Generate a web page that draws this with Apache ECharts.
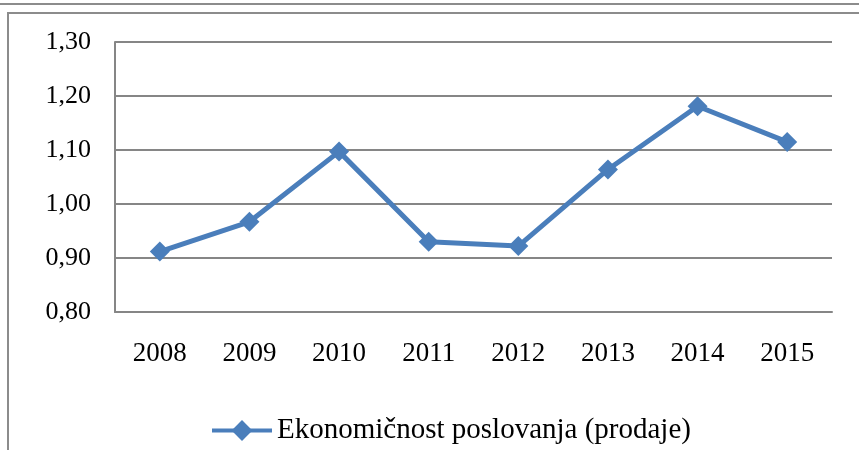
<!DOCTYPE html>
<html><head><meta charset="utf-8">
<script src="https://cdn.jsdelivr.net/npm/echarts@6/dist/echarts.min.js"></script>
<style>html,body{margin:0;padding:0;background:#fff}#c{width:859px;height:450px}</style>
</head><body><div id="c"></div>
<script>
const categories = ['2008','2009','2010','2011','2012','2013','2014','2015'];
const values = [0.912, 0.967, 1.097, 0.930, 0.922, 1.064, 1.181, 1.115];
const seriesName = 'Ekonomičnost poslovanja (prodaje)';
const yTicks = [0.8, 0.9, 1.0, 1.1, 1.2, 1.3];

const chart = echarts.init(document.getElementById('c'), null, {renderer:'canvas'});
const font = '"Liberation Serif", "Times New Roman", serif';
chart.setOption({
  animation: false,
  backgroundColor: '#fff',
  graphic: [
    {type:'line', shape:{x1:0,y1:4,x2:859,y2:4}, style:{stroke:'#8c8c8c', lineWidth:2}},
    {type:'rect', shape:{x:8,y:13,width:900,height:500}, style:{fill:null, stroke:'#8c8c8c', lineWidth:2}}
  ],
  grid: {left:115, right:27, top:42, bottom:138},
  xAxis: {
    type:'category', data: categories, boundaryGap:true,
    axisLine:{lineStyle:{color:'#868686', width:2}},
    axisTick:{show:false},
    axisLabel:{fontFamily:font, fontSize:27, color:'#000', margin:28}
  },
  yAxis: {
    type:'value', min:yTicks[0], max:yTicks[yTicks.length-1], interval:0.1,
    axisLine:{show:true, lineStyle:{color:'#868686', width:2}},
    axisTick:{show:false},
    splitLine:{lineStyle:{color:'#868686', width:2}},
    axisLabel:{fontFamily:font, fontSize:26, color:'#000', margin:24,
      formatter: v => v.toFixed(2).replace('.', ',')}
  },
  legend: {
    bottom: 0, left: 205, itemWidth: 60, itemHeight: 26, itemGap: 4,
    lineStyle:{width:4},
    textStyle:{fontFamily:font, fontSize:29, color:'#000'},
    data:[{name: seriesName}]
  },
  series: [{
    name: seriesName, type:'line', data: values,
    symbol:'diamond', symbolSize:20,
    lineStyle:{color:'#4a7ebb', width:5},
    itemStyle:{color:'#4a7ebb'}
  }]
});
</script></body></html>
